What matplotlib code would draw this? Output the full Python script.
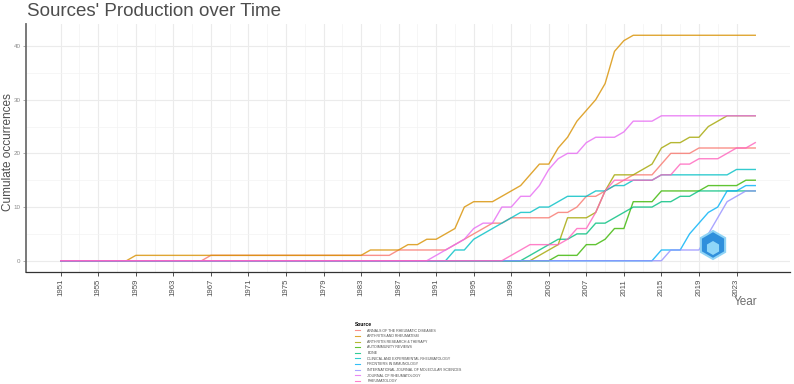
import numpy as np
import matplotlib
matplotlib.use("Agg")
import matplotlib.pyplot as plt
from matplotlib.patches import RegularPolygon

plt.rcParams['font.family'] = ['Liberation Sans', 'DejaVu Sans']

years = np.arange(1951, 2026)

sources = ["ANNALS OF THE RHEUMATIC DISEASES", "ARTHRITIS AND RHEUMATISM",
           "ARTHRITIS RESEARCH & THERAPY", "AUTOIMMUNITY REVIEWS", "BONE",
           "CLINICAL AND EXPERIMENTAL RHEUMATOLOGY", "FRONTIERS IN IMMUNOLOGY",
           "INTERNATIONAL JOURNAL OF MOLECULAR SCIENCES", "JOURNAL OF RHEUMATOLOGY",
           "RHEUMATOLOGY"]
colors = ["#F8766D", "#D89000", "#A3A500", "#39B600", "#00BF7D",
          "#00BFC4", "#00B0F6", "#9590FF", "#E76BF3", "#FF62BC"]

# cumulative occurrences, one value per year 1951..2025
annals = [0] * 16 + [1] * 20 + [2] * 6 + [3, 4, 5, 6, 7, 7] + [8] * 5 + \
         [9, 9, 10, 12, 12, 13, 14, 15, 16, 16, 16, 18, 20, 20, 20] + [21] * 7
arth_rheum = [0] * 8 + [1] * 25 + [2] * 4 + [3, 3, 4, 4, 5, 6, 10, 11, 11, 11] + \
             [12, 13, 14, 16, 18, 18, 21, 23, 26, 28, 30, 33, 39, 41] + [42] * 14
arth_res = [0] * 51 + [1, 2, 3, 8, 8, 8, 9, 13, 16, 16, 16, 17, 18, 21, 22, 22,
                       23, 23, 25, 26, 27, 27, 27, 27]
autoimm = [0] * 53 + [1, 1, 1, 3, 3, 4, 6, 6, 11, 11, 11, 13, 13, 13, 13, 13,
                      14, 14, 14, 14, 15, 15]
bone = [0] * 50 + [1, 2, 3, 4, 4, 5, 5, 7, 7, 8, 9, 10, 10, 10, 11, 11, 12, 12] + [13] * 7
clin_exp = [0] * 42 + [2, 2, 4, 5, 6, 7, 8, 9, 9, 10, 10, 11, 12, 12, 12, 13, 13,
                       14, 14, 15, 15, 15] + [16] * 8 + [17] * 3
frontiers = [0] * 64 + [2, 2, 2, 5, 7, 9, 10, 13, 13, 14, 14]
ijms = [0] * 65 + [2, 2, 2, 2, 5, 8, 11, 12, 13, 13]
j_rheum = [0] * 40 + [1, 2, 3, 4, 6, 7, 7, 10, 10, 12, 12, 14, 17, 19, 20, 20, 22,
                      23, 23, 23, 24, 26, 26, 26] + [27] * 11
rheum = [0] * 48 + [1, 2, 3, 3, 3, 3, 4, 6, 6, 9, 13, 15, 15, 15, 15, 15, 16, 16,
                    18, 18, 19, 19, 19, 20, 21, 21, 22]

series = [annals, arth_rheum, arth_res, autoimm, bone, clin_exp, frontiers,
          ijms, j_rheum, rheum]

xticks = np.arange(1951, 2024, 4)

fig = plt.figure(figsize=(7.94, 3.84), dpi=100)
ax = fig.add_axes([26 / 794, 1 - 272 / 384, (790 - 26) / 794, (272 - 24) / 384])

for name, vals, c in zip(sources, series, colors):
    ax.plot(years, vals, color=c, lw=1.0, alpha=0.8, label=name)

ax.set_xlim(1947.3, 2028.7)
ax.set_ylim(-2.1, 44.1)
ax.set_xticks(xticks)
ax.set_xticks(xticks[:-1] + 2, minor=True)
ax.set_yticks([0, 10, 20, 30, 40])
ax.set_yticks([5, 15, 25, 35], minor=True)
ax.grid(which='major', color='#ebebeb', lw=0.8)
ax.grid(which='minor', color='#f3f3f3', lw=0.5)
ax.set_axisbelow(True)

for s in ['top', 'right']:
    ax.spines[s].set_visible(False)
ax.spines['left'].set_color('#6e6e6e')
ax.spines['left'].set_linewidth(1.3)
ax.spines['bottom'].set_color('#333333')
ax.spines['bottom'].set_linewidth(0.9)

ax.tick_params(axis='x', which='major', labelsize=5.6, labelcolor='#4d4d4d',
               rotation=90, length=3, color='#333333', width=0.6, pad=2)
ax.tick_params(axis='y', which='major', labelsize=4.5, labelcolor='#8a8a8a',
               length=2, color='#8a8a8a', width=0.5, pad=2)
ax.tick_params(which='minor', length=0)

fig.text(27 / 794, 1 - 11 / 384, "Sources' Production over Time", fontsize=13.5,
         color='#4d4d4d', va='center', ha='left')
fig.text(8 / 794, 1 - 152 / 384, "Cumulate occurrences", fontsize=8.5,
         color='#4d4d4d', rotation=90, va='center', ha='center')
fig.text(746 / 794, 1 - 302 / 384, "Year", fontsize=8.5, color='#6e6e6e',
         va='center', ha='center')

# small hexagon logo
logo = RegularPolygon((713, 384 - 245), 6, radius=14, orientation=0,
                      transform=None, facecolor='#2f8fdc', edgecolor='#8fd3f5',
                      lw=1.5, zorder=5)
fig.patches.append(logo)
inner = RegularPolygon((713, 384 - 248), 6, radius=7, orientation=0,
                       transform=None, facecolor='#8fd6f8', edgecolor='none', zorder=6)
fig.patches.append(inner)

leg = fig.legend(loc='upper left', bbox_to_anchor=(355 / 794, 1 - 322 / 384),
                 frameon=False, fontsize=2.6, title='Source',
                 title_fontproperties={'size': 3.6, 'weight': 'bold'},
                 alignment='left', handlelength=1.4, handletextpad=2.0,
                 labelspacing=0.45, borderpad=0, borderaxespad=0)
for t in leg.get_texts():
    t.set_color('#4d4d4d')
for l in leg.get_lines():
    l.set_linewidth(0.8)

fig.savefig("out.png", dpi=100)
